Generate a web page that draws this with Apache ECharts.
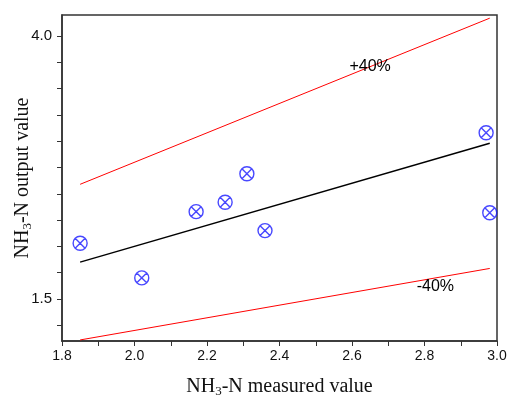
<!DOCTYPE html>
<html>
<head>
<meta charset="utf-8">
<script src="https://cdn.jsdelivr.net/npm/echarts@6/dist/echarts.min.js"></script>
<style>html,body{margin:0;padding:0;background:#fff}#c{width:509px;height:396px}</style>
</head>
<body>
<div id="c"></div>
<script>
// Data
const measured = [1.85, 2.02, 2.17, 2.25, 2.31, 2.36, 2.97, 2.98];
const output   = [2.03, 1.70, 2.33, 2.42, 2.69, 2.15, 3.08, 2.32];
const lineX    = [1.85, 2.98];
const idealY   = [1.85, 2.98];
const upperY   = [2.59, 4.17];
const lowerY   = [1.11, 1.79];
const xTicks   = [1.8, 1.9, 2.0, 2.1, 2.2, 2.3, 2.4, 2.5, 2.6, 2.7, 2.8, 2.9, 3.0];
const xLabels  = [1.8, 2.0, 2.2, 2.4, 2.6, 2.8, 3.0];
const yTicks   = [1.25, 1.5, 1.75, 2.0, 2.25, 2.5, 2.75, 3.0, 3.25, 3.5, 3.75, 4.0];
const yLabels  = [1.5, 4.0];
const annPlus  = [2.65, 3.71, '+40%'];
const annMinus = [2.83, 1.62, '-40%'];

const zip = (a, b) => a.map((v, i) => [v, b[i]]);
const chart = echarts.init(document.getElementById('c'), null, {renderer: 'canvas'});
const axisCol = '#333';
const markerPath = 'path://M0,-10A10,10 0 1,1 0,10A10,10 0 1,1 0,-10Z M-7.07,-7.07L7.07,7.07 M7.07,-7.07L-7.07,7.07';
const titleStyle = {fontFamily: 'Liberation Serif, Times New Roman', fontSize: 20, color: '#111',
  rich: {sub: {fontFamily: 'Liberation Serif', fontSize: 13, verticalAlign: 'bottom', padding: [9, 0, 0, 0], color: '#111'}}};

chart.setOption({
  animation: false,
  grid: {left: 62, right: 12, top: 15, bottom: 55, containLabel: false, outerBoundsMode: 'none',
    show: true, borderColor: axisCol, borderWidth: 1.5, backgroundColor: 'transparent'},
  xAxis: {
    type: 'value', min: 1.8, max: 3.0,
    axisLine: {show: true, lineStyle: {color: axisCol, width: 1.5}},
    axisTick: {show: true, customValues: xTicks, length: 5, lineStyle: {color: axisCol, width: 1}},
    axisLabel: {customValues: xLabels, formatter: v => (+v).toFixed(1), color: '#111', fontFamily: 'Liberation Sans, Arial', fontSize: 14, margin: 8},
    splitLine: {show: false},
    name: 'NH{sub|3}-N measured value', nameLocation: 'middle', nameGap: 35, nameMoveOverlap: false,
    nameTextStyle: titleStyle
  },
  yAxis: {
    type: 'value', min: 1.1, max: 4.2,
    axisLine: {show: true, lineStyle: {color: axisCol, width: 1.5}},
    axisTick: {show: true, customValues: yTicks, length: 5, lineStyle: {color: axisCol, width: 1}},
    axisLabel: {customValues: yLabels, formatter: v => (+v).toFixed(1), color: '#111', fontFamily: 'Liberation Sans, Arial', fontSize: 15, margin: 10},
    splitLine: {show: false},
    name: 'NH{sub|3}-N output value', nameLocation: 'middle', nameGap: 28, nameMoveOverlap: false,
    nameTextStyle: titleStyle
  },
  series: [
    {type: 'line', data: zip(lineX, upperY), symbol: 'none', lineStyle: {color: '#ff0000', width: 1}, silent: true},
    {type: 'line', data: zip(lineX, lowerY), symbol: 'none', lineStyle: {color: '#ff0000', width: 1}, silent: true},
    {type: 'line', data: zip(lineX, idealY), symbol: 'none', lineStyle: {color: '#000', width: 1.5}, silent: true},
    {type: 'scatter', data: zip(measured, output), symbol: markerPath, symbolSize: 14, symbolKeepAspect: true,
      itemStyle: {color: 'rgba(0,0,0,0)', borderColor: '#1a1aff', borderWidth: 1.4}, z: 5},
    {type: 'scatter', data: [annPlus, annMinus], symbol: 'circle', symbolSize: 1, itemStyle: {color: 'rgba(0,0,0,0)'},
      label: {show: true, position: 'inside', formatter: p => p.data[2], color: '#000', opacity: 1, textBorderWidth: 0,
        fontFamily: 'Liberation Sans, Arial', fontSize: 16}, z: 6}
  ]
});
</script>
</body>
</html>
